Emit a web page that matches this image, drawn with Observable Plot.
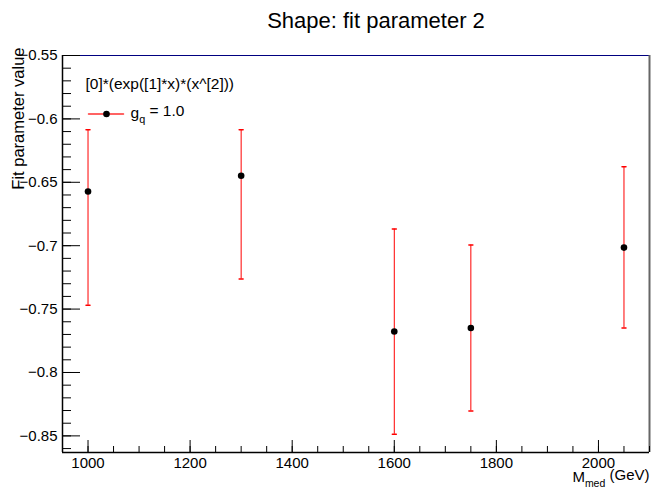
<!DOCTYPE html>
<html>
<head>
<meta charset="utf-8">
<script src="https://cdn.jsdelivr.net/npm/d3@7"></script>
<script src="https://cdn.jsdelivr.net/npm/@observablehq/plot@0.6"></script>
<style>
  html, body { margin: 0; padding: 0; background: #fff; }
  #chart svg { display: block; }
</style>
</head>
<body>
<div id="chart"></div>
<script>
// ---- data ----
const massPoints = [1000, 1300, 1600, 1750, 2050];
const paramValues = [-0.6572, -0.6448, -0.7677, -0.7649, -0.7015];
const errUpper = [-0.6086, -0.6086, -0.6869, -0.6995, -0.6377];
const errLower = [-0.7470, -0.7263, -0.8487, -0.8303, -0.7649];

const xMajorTicks = [1000, 1200, 1400, 1600, 1800, 2000];
const yMajorTicks = [-0.85, -0.8, -0.75, -0.7, -0.65, -0.6, -0.55];
const xMinorTicks = d3.range(950, 2101, 50);
const yMinorTicks = d3.range(-86, -54, 1).map(v => v / 100);

const titleText = "Shape: fit parameter 2";
const yTitle = "Fit parameter value";
const xTitle = "M_med (GeV)";
const legendHeader = "[0]*(exp([1]*x)*(x^[2]))";
const legendEntry = "g_q = 1.0";

const xDomain = [950, 2100];
const yDomain = [-0.8631, -0.55];

const table = massPoints.map((m, i) => ({
  m, v: paramValues[i], hi: errUpper[i], lo: errLower[i]
}));

const capShape = { draw(c, l) { c.moveTo(0, 0); c.lineTo(0, -l); } };

const font = "'Liberation Sans', Arial, Helvetica, sans-serif";

const chart = Plot.plot({
  width: 662,
  height: 491,
  marginLeft: 62,
  marginRight: 13,
  marginTop: 55,
  marginBottom: 39,
  style: { fontFamily: font, fontSize: "15px", background: "#fff", color: "#000" },
  x: { domain: xDomain, axis: null, label: null },
  y: { domain: yDomain, axis: null, label: null },
  marks: [
    // frame
    Plot.ruleY([yDomain[1]], { stroke: "#000080", strokeWidth: 1 }),
    Plot.ruleX([xDomain[1]], { stroke: "#666", strokeWidth: 2 }),
    // y axis
    Plot.axisY(yMinorTicks, { anchor: "left", tickSize: -9, text: null, label: null, stroke: "#000" }),
    Plot.axisY(yMajorTicks, { anchor: "left", tickSize: -18, text: null, label: null, stroke: "#000" }),
    Plot.axisY(yMajorTicks, { anchor: "left", tickSize: 0, tickPadding: 5, fontSize: 15, label: null, tickFormat: d3.format("~g") }),
    // x axis
    Plot.axisX(xMinorTicks, { anchor: "bottom", tickSize: -6, text: null, label: null, stroke: "#000" }),
    Plot.axisX(xMajorTicks, { anchor: "bottom", tickSize: -12, text: null, label: null, stroke: "#000" }),
    Plot.axisX(xMajorTicks, { anchor: "bottom", tickSize: 0, tickPadding: 5, fontSize: 15, label: null, tickFormat: d3.format("d") }),
    Plot.ruleX([xDomain[0]], { stroke: "#000", strokeWidth: 1.5 }),
    Plot.ruleY([yDomain[0]], { stroke: "#000", strokeWidth: 1.5 }),
    // error bars
    Plot.ruleX(table, { x: "m", y1: "lo", y2: "hi", stroke: "#ff0000", strokeWidth: 1 }),
    Plot.vector(table, { x: "m", y: "hi", length: 4, rotate: 90, anchor: "middle", shape: capShape, stroke: "#ff0000", strokeWidth: 1.5 }),
    Plot.vector(table, { x: "m", y: "lo", length: 4, rotate: 90, anchor: "middle", shape: capShape, stroke: "#ff0000", strokeWidth: 1.5 }),
    // points
    Plot.dot(table, { x: "m", y: "v", r: 3.3, fill: "#000", stroke: "none" }),
    // title
    Plot.text([titleText], { frameAnchor: "top", dx: 20, dy: -35, fontSize: 22, lineAnchor: "middle", fill: "#000" }),
    // axis titles
    Plot.text([yTitle], { frameAnchor: "top-left", dx: -44, dy: -8, rotate: -90, textAnchor: "end", lineAnchor: "middle", fontSize: 16.5, fill: "#000" }),
    Plot.text([xTitle], { frameAnchor: "bottom-right", dx: 0, dy: 25, textAnchor: "end", lineAnchor: "middle", fontSize: 15, fill: "#000" }),
    // legend
    Plot.text([legendHeader], { frameAnchor: "top-left", dx: 23, dy: 29, textAnchor: "start", lineAnchor: "middle", fontSize: 15.5, fill: "#000" }),
    Plot.vector([legendEntry], { frameAnchor: "top-left", dx: 26, dy: 58.5, length: 35, rotate: 90, anchor: "start", shape: capShape, stroke: "#ff3030", strokeWidth: 1.5 }),
    Plot.dot([legendEntry], { frameAnchor: "top-left", dx: 44, dy: 58.5, r: 3.3, fill: "#000", stroke: "none" }),
    Plot.text([legendEntry], { frameAnchor: "top-left", dx: 68, dy: 58, textAnchor: "start", lineAnchor: "middle", fontSize: 15.5, fill: "#000" })
  ]
});

// subscripts
d3.select(chart).selectAll("text").each(function () {
  const t = d3.select(this);
  const s = this.textContent;
  const m = s.match(/^(.*?)_([a-z]+)(.*)$/);
  if (m && (s === xTitle || s === legendEntry)) {
    t.text(null);
    t.append("tspan").text(m[1]);
    t.append("tspan").attr("font-size", "70%").attr("dy", "0.45em").text(m[2]);
    t.append("tspan").attr("dy", "-0.45em").text(m[3]);
  }
});

document.getElementById("chart").appendChild(chart);
</script>
</body>
</html>
